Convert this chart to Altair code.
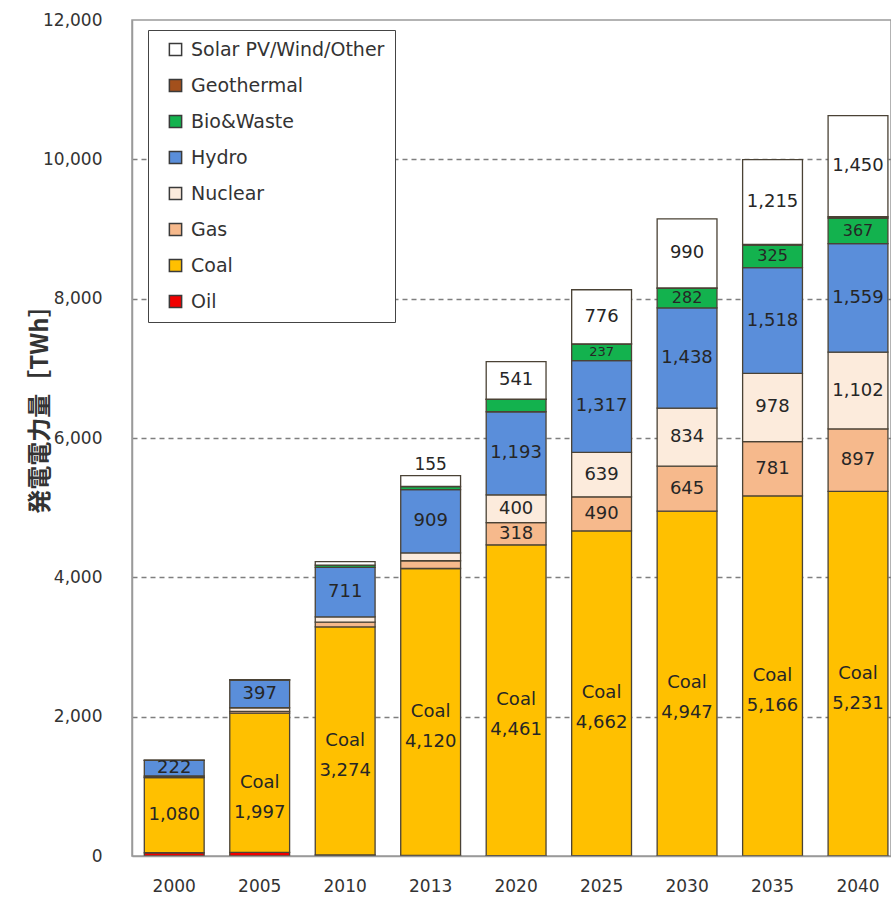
import altair as alt
import pandas as pd

# Electricity generation by source (TWh), stacked bottom to top
years = ["2000", "2005", "2010", "2013", "2020", "2025", "2030", "2035", "2040"]
oil = [47, 53, 14, 7, 5, 4, 3, 2, 2]
coal = [1080, 1997, 3274, 4120, 4461, 4662, 4947, 5166, 5231]
gas = [6, 25, 69, 111, 318, 490, 645, 781, 897]
nuclear = [17, 53, 74, 112, 400, 639, 834, 978, 1102]
hydro = [222, 397, 711, 909, 1193, 1317, 1438, 1518, 1559]
bio = [2, 4, 34, 45, 177, 237, 282, 325, 367]
geothermal = [0, 0, 0, 0, 2, 3, 5, 10, 20]
solar = [1, 2, 50, 155, 541, 776, 990, 1215, 1450]

sources = ["Oil", "Coal", "Gas", "Nuclear", "Hydro", "Bio&Waste", "Geothermal",
           "Solar PV/Wind/Other"]
series = [oil, coal, gas, nuclear, hydro, bio, geothermal, solar]
colors = ["#F00000", "#FFC000", "#F6B98C", "#FCEBDC", "#5A8EDA", "#13B24E",
          "#A3501C", "#FFFFFF"]

legend_order = sources[::-1]
legend_colors = colors[::-1]

rows = []
for i, yr in enumerate(years):
    base = 0
    for k, (name, vals) in enumerate(zip(sources, series)):
        v = vals[i]
        rows.append(dict(year=yr, source=name, rank=k, value=v,
                         lo=base, hi=base + v, mid=base + v / 2))
        base += v
df = pd.DataFrame(rows)
bars_df = df[df["value"] > 0]

# Labels inside segments that are tall enough
inside = df[df["value"] >= 200].copy()
inside["text"] = inside["value"].map(lambda v: f"{v:,}")
is_coal = (inside["source"] == "Coal") & (inside["year"] != "2000")
inside.loc[is_coal, "text"] = "Coal\n" + inside.loc[is_coal, "text"]
inside["fs"] = 18
inside.loc[inside["source"] == "Bio&Waste", "fs"] = 16
inside.loc[(inside["source"] == "Bio&Waste") & (inside["value"] < 250), "fs"] = 13

# Thin renewable segment labelled above the bar
above = df[(df["source"] == "Solar PV/Wind/Other") & (df["value"] >= 100)
           & (df["value"] < 200)].copy()
above["text"] = above["value"].map(lambda v: f"{v:,}")

x_enc = alt.X(
    "year:N", sort=years, title=None,
    scale=alt.Scale(paddingInner=0.3, paddingOuter=0.09, align=0.8),
    axis=alt.Axis(labelAngle=0, ticks=False, labelPadding=22, labelFontSize=17,
                  domainColor="#9a9a9a", domainWidth=1.5, zindex=1),
)
y_scale = alt.Scale(domain=[0, 12000], nice=False)

bars = alt.Chart(bars_df).mark_bar(stroke="#4a4235", strokeWidth=1.3).encode(
    x=x_enc,
    y=alt.Y(
        "lo:Q", scale=y_scale,
        axis=alt.Axis(
            values=list(range(0, 12001, 2000)), format=",.0f", ticks=False,
            labelPadding=30, labelFontSize=17,
            grid=True, gridDash=[5, 4], gridColor="#7f7f7f", gridWidth=1.5,
            gridOpacity={"condition": {"test": "datum.value === 0 || datum.value === 12000",
                                       "value": 0}, "value": 1},
            domainColor="#9a9a9a", domainWidth=1.5,
            title="発電電力量［TWh］", titleFont="Noto Sans CJK JP",
            titleFontSize=24, titleFontWeight="bold", titleColor="#333333",
            titleAngle=270, titleX=-92, titleY=383,
            titleAlign="center", titleBaseline="middle",
        ),
    ),
    y2="hi:Q",
    color=alt.Color(
        "source:N",
        scale=alt.Scale(domain=legend_order, range=legend_colors),
        legend=alt.Legend(
            title=None, orient="none", legendX=16, legendY=10,
            symbolType="square", symbolSize=150, symbolStrokeColor="#3a3a3a",
            symbolStrokeWidth=1.5, labelFontSize=19, labelColor="#333333",
            labelFont="DejaVu Sans", labelLimit=400, rowPadding=16, padding=10,
            symbolOffset=8, labelOffset=6, strokeColor="#444444",
            fillColor="#FFFFFF",
        ),
    ),
)

labels_in = alt.Chart(inside).mark_text(
    font="DejaVu Sans", color="#262626", baseline="middle", align="center",
    lineBreak="\n", lineHeight=30,
).encode(
    x=alt.X("year:N", sort=years),
    y=alt.Y("mid:Q", scale=y_scale),
    text="text:N",
    size=alt.Size("fs:Q", scale=None, legend=None),
)

labels_above = alt.Chart(above).mark_text(
    font="DejaVu Sans", color="#262626", baseline="bottom", align="center",
    fontSize=17, dy=-2,
).encode(
    x=alt.X("year:N", sort=years),
    y=alt.Y("hi:Q", scale=y_scale),
    text="text:N",
)

chart = (
    alt.layer(bars, labels_in, labels_above)
    .properties(width=759, height=836,
                padding={"left": 132, "top": 20, "right": 0, "bottom": 42},
                autosize=alt.AutoSizeParams(type="none"))
    .configure_view(stroke="#9a9a9a", strokeWidth=1.5)
    .configure_axis(labelFont="DejaVu Sans", labelColor="#333333")
)

chart.save("out.html", embed_options={"renderer": "svg", "actions": False})
